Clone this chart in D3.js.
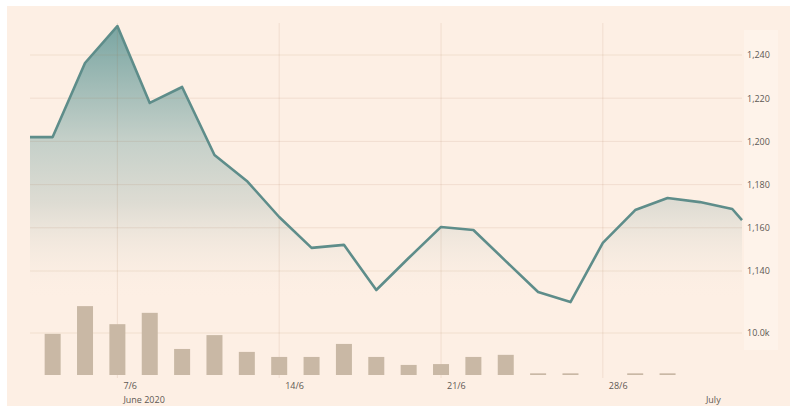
<!DOCTYPE html>
<html>
<head>
<meta charset="utf-8">
<script src="https://cdn.jsdelivr.net/npm/d3@7"></script>
<style>
html,body{margin:0;padding:0;background:#ffffff;}
svg{display:block;}
text{font-family:"Open Sans","Noto Sans",sans-serif;}
</style>
</head>
<body>
<svg id="chart" width="792" height="407"></svg>
<script>
// ---- data ----
const dayIndex = [-0.7, 0, 1, 2, 3, 4, 5, 6, 7, 8, 9, 10, 11, 12, 13, 14, 15, 16, 17, 18, 19, 20, 21, 21.3];
const price    = [1202, 1202, 1236.3, 1253.4, 1217.8, 1225.2, 1193.7, 1181.7, 1165, 1150.7, 1152.1, 1131.2, 1146, 1160.4, 1159, 1144.6, 1130.3, 1125.6, 1153, 1168.2, 1173.8, 1171.9, 1168.7, 1163.6];
const volIndex = [0, 1, 2, 3, 4, 5, 6, 7, 8, 9, 10, 11, 12, 13, 14, 15, 16, 17, 18, 19, 20, 21];
const volume   = [9.8, 16.4, 12.1, 14.8, 6.2, 9.5, 5.5, 4.3, 4.3, 7.4, 4.3, 2.4, 2.6, 4.3, 4.8, 0.4, 0.4, 0, 0.4, 0.4, 0, 0]; // thousands
const priceTicks = [1140, 1160, 1180, 1200, 1220, 1240];
const volTicks = [10];
const weekTickIdx = [2, 7, 12, 17];
const weekTickLabels = ["7/6", "14/6", "21/6", "28/6"];
const monthTickIdx = [2, 20];
const monthTickLabels = ["June 2020", "July"];

// ---- layout ----
const svg = d3.select("#chart");
const L = 30, R = 742;
const bg = "#fdefe4";
svg.append("rect").attr("x", 7).attr("y", 6).attr("width", 783).attr("height", 400).attr("fill", bg);
svg.append("rect").attr("x", 744).attr("y", 30).attr("width", 34).attr("height", 320).attr("fill", "#fef3ea");

const x = d3.scaleLinear().domain([-0.7, 21.3]).range([L, R]);
const y = d3.scaleLinear().domain([1140, 1240]).range([271, 55]);
const yv = d3.scaleLinear().domain([0, 10]).range([375, 333]);

// gradient
const defs = svg.append("defs");
const grad = defs.append("linearGradient").attr("id", "areaGrad")
  .attr("gradientUnits", "userSpaceOnUse").attr("x1", 0).attr("x2", 0).attr("y1", 25).attr("y2", 300);
grad.append("stop").attr("offset", 0).attr("stop-color", "#79a5a2").attr("stop-opacity", 1);
grad.append("stop").attr("offset", 0.42).attr("stop-color", "#c5d0c9").attr("stop-opacity", 1);
grad.append("stop").attr("offset", 0.65).attr("stop-color", "#dedcd3").attr("stop-opacity", 1);
grad.append("stop").attr("offset", 1).attr("stop-color", "#fdefe4").attr("stop-opacity", 0);

const pts = dayIndex.map((d, i) => [d, price[i]]);
const area = d3.area().x(d => x(d[0])).y0(300).y1(d => y(d[1]));
const line = d3.line().x(d => x(d[0])).y(d => y(d[1]));
svg.append("path").datum(pts).attr("d", area).attr("fill", "url(#areaGrad)");

const grid = "rgba(160,110,70,0.13)";
// horizontal gridlines
svg.append("g").selectAll("line").data(priceTicks).join("line")
  .attr("x1", L).attr("x2", R).attr("y1", d => y(d)).attr("y2", d => y(d))
  .attr("stroke", grid).attr("stroke-width", 1);
svg.append("g").selectAll("line").data(volTicks).join("line")
  .attr("x1", L).attr("x2", R).attr("y1", d => yv(d)).attr("y2", d => yv(d))
  .attr("stroke", grid).attr("stroke-width", 1);
// vertical gridlines
svg.append("g").selectAll("line").data(weekTickIdx).join("line")
  .attr("x1", d => x(d)).attr("x2", d => x(d)).attr("y1", 23).attr("y2", 378)
  .attr("stroke", grid).attr("stroke-width", 1);

svg.append("path").datum(pts).attr("d", line).attr("fill", "none")
  .attr("stroke", "#5e8d8a").attr("stroke-width", 2.6).attr("stroke-linejoin", "round");

// volume bars
const bw = 16;
svg.append("g").selectAll("rect").data(volIndex.map((d, i) => [d, volume[i]])).join("rect")
  .attr("x", d => x(d[0]) - bw / 2).attr("width", bw)
  .attr("y", d => yv(d[1])).attr("height", d => yv(0) - yv(d[1]))
  .attr("fill", "#c9b8a5");

// axis labels
const tc = "#5d5853";
const yAxis = d3.axisRight(y).tickValues(priceTicks).tickFormat(d3.format(",")).tickSize(0).tickPadding(0);
const gy = svg.append("g").attr("transform", `translate(747,0)`).call(yAxis);
gy.select(".domain").remove();
gy.selectAll("text").attr("fill", tc).attr("font-size", 9);

const vAxis = d3.axisRight(yv).tickValues(volTicks).tickFormat(d => d3.format(".1f")(d) + "k").tickSize(0).tickPadding(0);
const gv = svg.append("g").attr("transform", `translate(747,0)`).call(vAxis);
gv.select(".domain").remove();
gv.selectAll("text").attr("fill", tc).attr("font-size", 9);

svg.append("g").selectAll("text").data(weekTickIdx).join("text")
  .attr("x", d => x(d) + 6).attr("y", 389)
  .attr("font-size", 9).attr("fill", tc)
  .text((d, i) => weekTickLabels[i]);
svg.append("g").selectAll("text").data(monthTickIdx).join("text")
  .attr("x", d => x(d) + 6).attr("y", 403)
  .attr("font-size", 9).attr("fill", tc)
  .text((d, i) => monthTickLabels[i]);
</script>
</body>
</html>
